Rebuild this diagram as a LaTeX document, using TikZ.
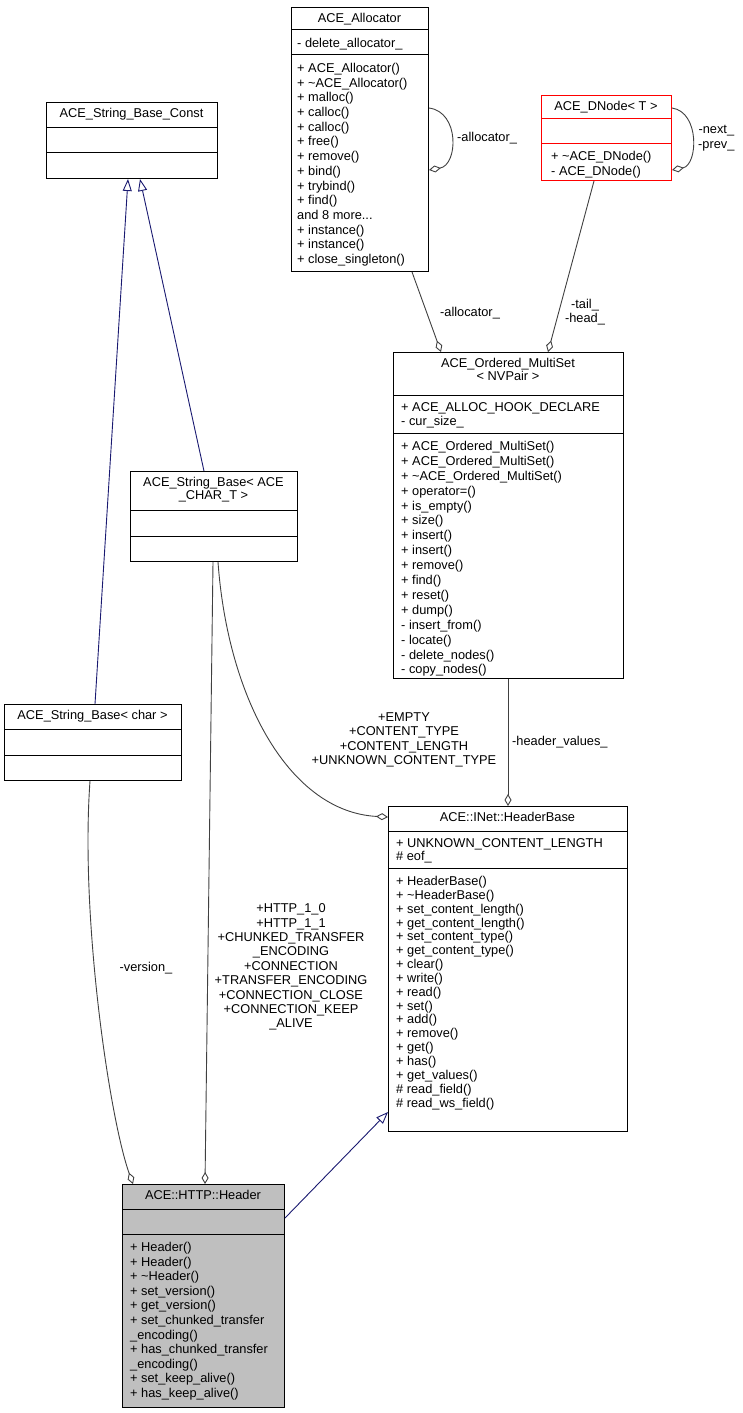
\documentclass[tikz,border=0pt]{standalone}
\usepackage{fontspec}
\setmainfont{Liberation Sans}
\usetikzlibrary{arrows.meta}
\definecolor{edge}{HTML}{404040}
\definecolor{inh}{HTML}{191970}
\tikzset{
 box/.style={draw=black, line width=1pt, anchor=north west, inner sep=0pt},
 sep/.style={draw=black, line width=1pt},
 txt/.style={anchor=north west, inner sep=0pt, align=left, font=\fontsize{12.8}{#1}\selectfont},
 txt/.default=14,
 ttl/.style={anchor=north, inner sep=0pt, align=center, font=\fontsize{12.8}{13.5}\selectfont},
 lbl/.style={inner sep=0pt, align=center, font=\fontsize{12.8}{14.4}\selectfont},
 agg/.style={draw=edge, line width=0.9pt, -{Diamond[open,length=12pt,width=7pt]}},
 gen/.style={draw=inh, line width=0.9pt, -{Triangle[open,length=12pt,width=9pt]}},
}
\begin{document}
\begin{tikzpicture}[x=1pt,y=-1pt]
\useasboundingbox (0,0) rectangle (743,1413);
% ACE_Allocator
\node[box, minimum width=137pt, minimum height=264pt] (alloc) at (291,7) {};
\draw[sep] (291,30) -- (428,30); \draw[sep] (291,55) -- (428,55);
\node[ttl] (allocT) at (359.5,13) {ACE\_Allocator};
\node[txt] (allocA) at (297,38) {- delete\_allocator\_};
\node[txt=14.7] (allocM) at (297,63) {+ ACE\_Allocator()\\+ \textasciitilde ACE\_Allocator()\\+ malloc()\\+ calloc()\\+ calloc()\\+ free()\\+ remove()\\+ bind()\\+ trybind()\\+ find()\\and 8 more...\\+ instance()\\+ instance()\\+ close\_singleton()};
% ACE_DNode
\node[box, draw=red, minimum width=130pt, minimum height=85pt] (dnode) at (541,95) {};
\draw[sep,draw=red] (541,118) -- (671,118); \draw[sep,draw=red] (541,143) -- (671,143);
\node[ttl] (dnodeT) at (606,101) {ACE\_DNode< T >};
\node[txt=14.7] (dnodeM) at (551,151) {+ \textasciitilde ACE\_DNode()\\- ACE\_DNode()};
% ACE_String_Base_Const
\node[box, minimum width=171pt, minimum height=76pt] (sbc) at (46,102) {};
\draw[sep] (46,127) -- (217,127); \draw[sep] (46,152) -- (217,152);
\node[ttl] (sbcT) at (131.5,108) {ACE\_String\_Base\_Const};
% ACE_Ordered_MultiSet
\node[box, minimum width=230pt, minimum height=326pt] (ms) at (393,352) {};
\draw[sep] (393,395) -- (623,395); \draw[sep] (393,433) -- (623,433);
\node[ttl] (msT) at (508,358) {ACE\_Ordered\_MultiSet\\< NVPair >};
\node[txt] (msA) at (401,402) {+ ACE\_ALLOC\_HOOK\_DECLARE\\- cur\_size\_};
\node[txt=14.9] (msM) at (401,441) {+ ACE\_Ordered\_MultiSet()\\+ ACE\_Ordered\_MultiSet()\\+ \textasciitilde ACE\_Ordered\_MultiSet()\\+ operator=()\\+ is\_empty()\\+ size()\\+ insert()\\+ insert()\\+ remove()\\+ find()\\+ reset()\\+ dump()\\- insert\_from()\\- locate()\\- delete\_nodes()\\- copy\_nodes()};
% ACE_String_Base<ACE_CHAR_T>
\node[box, minimum width=167pt, minimum height=90pt] (sbt) at (130,471) {};
\draw[sep] (130,510) -- (297,510); \draw[sep] (130,536) -- (297,536);
\node[ttl] (sbtT) at (213.5,477) {ACE\_String\_Base< ACE\\\_CHAR\_T >};
% ACE_String_Base<char>
\node[box, minimum width=177pt, minimum height=76pt] (sbch) at (4,704) {};
\draw[sep] (4,729) -- (181,729); \draw[sep] (4,755) -- (181,755);
\node[ttl] (sbchT) at (92.5,710) {ACE\_String\_Base< char >};
% HeaderBase
\node[box, minimum width=239pt, minimum height=325pt] (hb) at (388,806) {};
\draw[sep] (388,831) -- (627,831); \draw[sep] (388,868) -- (627,868);
\node[ttl] (hbT) at (507.5,812) {ACE::INet::HeaderBase};
\node[txt=13.5] (hbA) at (396,838) {+ UNKNOWN\_CONTENT\_LENGTH\\\# eof\_};
\node[txt=13.85] (hbM) at (396,876) {+ HeaderBase()\\+ \textasciitilde HeaderBase()\\+ set\_content\_length()\\+ get\_content\_length()\\+ set\_content\_type()\\+ get\_content\_type()\\+ clear()\\+ write()\\+ read()\\+ set()\\+ add()\\+ remove()\\+ get()\\+ has()\\+ get\_values()\\\# read\_field()\\\# read\_ws\_field()};
% Header
\node[box, fill=black!25, minimum width=162pt, minimum height=223pt] (hd) at (122,1184) {};
\draw[sep] (122,1209) -- (284,1209); \draw[sep] (122,1234) -- (284,1234);
\node[ttl] (hdT) at (203,1190) {ACE::HTTP::Header};
\node[txt=14.6] (hdM) at (130,1242) {+ Header()\\+ Header()\\+ \textasciitilde Header()\\+ set\_version()\\+ get\_version()\\+ set\_chunked\_transfer\\\_encoding()\\+ has\_chunked\_transfer\\\_encoding()\\+ set\_keep\_alive()\\+ has\_keep\_alive()};
% inheritance
\draw[gen] ([xshift=91pt]sbch.north west) -- ([xshift=82pt]sbc.south west);
\draw[gen] ([xshift=74pt]sbt.north west) -- ([xshift=94pt]sbc.south west);
\draw[gen] ([yshift=-34pt]hd.north east) -- ([yshift=-306pt]hb.north west);
% self loops
\draw[agg] (alloc.north east |- 0,108) .. controls (460,112) and (458,165) .. (alloc.north east |- 0,170);
\node[lbl, anchor=west] (allocL) at (457,138) {-allocator\_};
\draw[agg] (dnode.north east |- 0,108) .. controls (700,112) and (698,165) .. (dnode.north east |- 0,170);
\node[lbl, anchor=west] (dnodeL) at (698,138) {-next\_\\-prev\_};
% aggregations
\draw[agg] ([xshift=121pt]alloc.south west) -- ([xshift=48pt]ms.north west);
\node[lbl] (l1) at (470,313) {-allocator\_};
\draw[agg] ([xshift=53pt]dnode.south west) -- ([xshift=155pt]ms.north west);
\node[lbl] (l2) at (585,312) {-tail\_\\-head\_};
\draw[agg] (ms.south -| 508,0) -- (hb.north -| 508,0);
\node[lbl, anchor=west] (l3) at (512,742) {-header\_values\_};
\draw[agg] ([xshift=88pt]sbt.south west) .. controls (228,700) and (290,812) .. (hb.north west |- 0,817);
\node[lbl] (l4) at (404,740) {+EMPTY\\+CONTENT\_TYPE\\+CONTENT\_LENGTH\\+UNKNOWN\_CONTENT\_TYPE};
\draw[agg] ([xshift=83pt]sbt.south west) -- ([xshift=83pt]hd.north west);
\node[lbl] (l5) at (291,967) {+HTTP\_1\_0\\+HTTP\_1\_1\\+CHUNKED\_TRANSFER\\\_ENCODING\\+CONNECTION\\+TRANSFER\_ENCODING\\+CONNECTION\_CLOSE\\+CONNECTION\_KEEP\\\_ALIVE};
\draw[agg] ([xshift=86pt]sbch.south west) .. controls (80,920) and (110,1120) .. ([xshift=11pt]hd.north west);
\node[lbl] (l6) at (146,968) {-version\_};
\end{tikzpicture}
\end{document}
